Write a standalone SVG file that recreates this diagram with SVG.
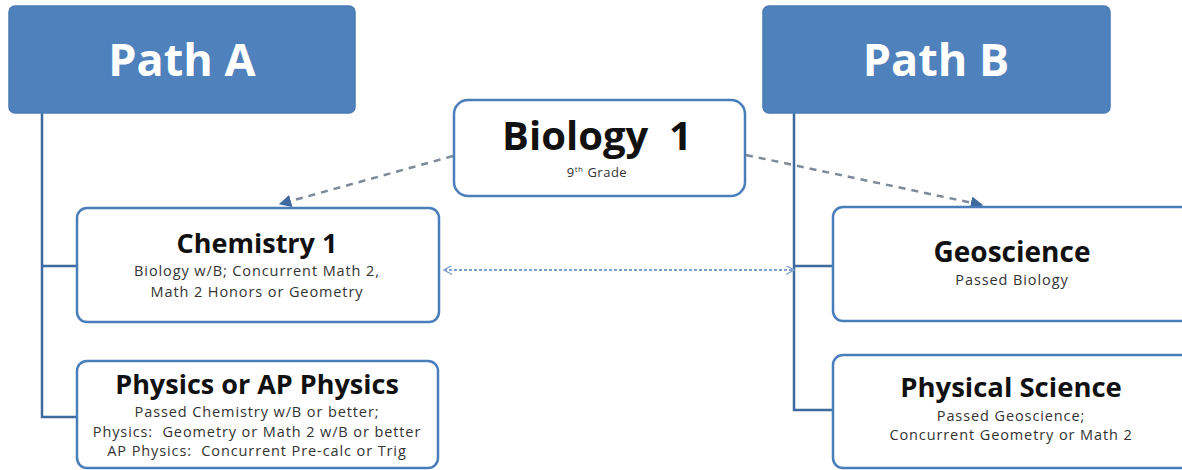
<svg xmlns="http://www.w3.org/2000/svg" width="1182" height="470" viewBox="0 0 1182 470">
<style>
.hdr{fill:#4f81bd;stroke:#4a7bb5;stroke-width:1.5}
.hdrt{font-family:"Open Sans",sans-serif;font-weight:bold;font-size:45px;fill:#fff;text-anchor:middle}
.box{fill:#fff;stroke:#4a7ebb;stroke-width:2.5}
.tt{font-family:"Open Sans",sans-serif;font-weight:bold;fill:#111;text-anchor:middle}
.st{font-family:"Open Sans",sans-serif;font-size:14.5px;letter-spacing:0.9px;fill:#333;text-anchor:middle;white-space:pre}
.ln{fill:none;stroke:#3f6aa0;stroke-width:2.5}
.dash{fill:none;stroke:#7f8a99;stroke-width:2.5;stroke-dasharray:7 6}
.dot{fill:none;stroke:#7ea0cc;stroke-width:2;stroke-dasharray:3 2}
</style>
<defs>
<marker id="tri" viewBox="0 0 10 10" refX="9" refY="5" markerWidth="5" markerHeight="5" orient="auto-start-reverse" markerUnits="strokeWidth">
<path d="M0,0 L10,5 L0,10 z" fill="#3f6aa0"/>
</marker>
<marker id="vee" viewBox="0 0 10 10" refX="9" refY="5" markerWidth="9" markerHeight="9" orient="auto-start-reverse" markerUnits="userSpaceOnUse">
<path d="M0,0 L9,5 L0,10" fill="none" stroke="#7ea0cc" stroke-width="1.5"/>
</marker>
</defs>
<rect width="1182" height="470" fill="#fff"/>
<g id="connectors">
<path class="ln" d="M42,113 V417 H77 M42,266 H77"/>
<path class="ln" d="M794,113 V410 H833 M794,266 H833"/>
<path class="dash" d="M453,156 L280,204" marker-end="url(#tri)"/>
<path class="dash" d="M746,155 L982,205" marker-end="url(#tri)"/>
<path class="dot" d="M444,270 H794" marker-start="url(#vee)" marker-end="url(#vee)"/>
</g>
<g id="pathA">
<rect class="hdr" x="9" y="6" width="346" height="107" rx="6"/>
<text class="hdrt" x="182" y="76">Path A</text>
</g>
<g id="pathB">
<rect class="hdr" x="763" y="6" width="347" height="107" rx="6"/>
<text class="hdrt" x="936" y="76">Path B</text>
</g>
<g id="biology">
<rect class="box" x="454" y="100" width="291" height="96" rx="14"/>
<text class="tt" x="597" y="150" font-size="40" style="white-space:pre">Biology  1</text>
<text class="st" x="597" y="177" style="font-size:13px;letter-spacing:0.5px">9<tspan dy="-5" style="font-size:8px">th</tspan><tspan dy="5"> Grade</tspan></text>
</g>
<g id="chemistry">
<rect class="box" x="77" y="208" width="362" height="114" rx="10"/>
<text class="tt" x="257" y="253" font-size="27">Chemistry 1</text>
<text class="st" x="257" y="276">Biology w/B; Concurrent Math 2,</text>
<text class="st" x="257" y="297">Math 2 Honors or Geometry</text>
</g>
<g id="physics">
<rect class="box" x="77" y="361" width="361" height="107" rx="10"/>
<text class="tt" x="257" y="394" font-size="27">Physics or AP Physics</text>
<text class="st" x="257" y="417">Passed Chemistry w/B or better;</text>
<text class="st" x="257" y="437">Physics:  Geometry or Math 2 w/B or better</text>
<text class="st" x="257" y="456">AP Physics:  Concurrent Pre-calc or Trig</text>
</g>
<g id="geoscience">
<rect class="box" x="833" y="207" width="380" height="114" rx="10"/>
<text class="tt" x="1012" y="262" font-size="28">Geoscience</text>
<text class="st" x="1012" y="285">Passed Biology</text>
</g>
<g id="physical">
<rect class="box" x="833" y="355" width="380" height="113" rx="10"/>
<text class="tt" x="1011" y="397" font-size="27.5">Physical Science</text>
<text class="st" x="1011" y="421">Passed Geoscience;</text>
<text class="st" x="1011" y="440">Concurrent Geometry or Math 2</text>
</g>
</svg>
